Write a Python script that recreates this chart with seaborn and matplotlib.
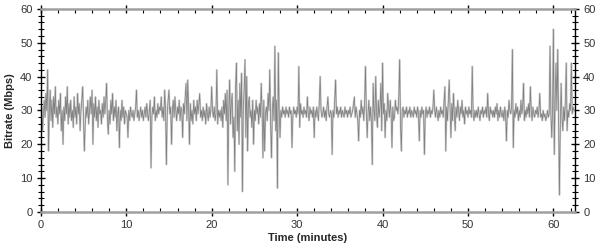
import numpy as np
import pandas as pd
import matplotlib
matplotlib.use("Agg")
import matplotlib.pyplot as plt
from matplotlib.ticker import MultipleLocator
import seaborn as sns

# Bitrate samples (Mbps), one every 0.1 minute
bitrate_mbps = [
    27, 31, 24, 29, 33, 28, 35, 30, 42, 18,
    30, 36, 27, 33, 25, 34, 29, 37, 28, 31,
    26, 33, 29, 35, 24, 30, 20, 31, 27, 34,
    29, 37, 26, 32, 28, 33, 27, 30, 25, 34,
    28, 31, 26, 35, 29, 32, 24, 30, 33, 37,
    27, 18, 26, 31, 28, 33, 26, 30, 34, 29,
    36, 20, 32, 28, 34, 27, 31, 25, 33, 29,
    30, 26, 32, 28, 34, 29, 33, 38, 27, 23,
    30, 26, 33, 29, 35, 27, 31, 28, 33, 24,
    29, 31, 19, 30, 27, 33, 28, 31, 26, 30,
    29, 28, 22, 30, 27, 31, 29, 28, 30, 27,
    29, 31, 36, 28, 30, 27, 29, 31, 28, 30,
    27, 29, 31, 28, 32, 29, 27, 30, 33, 13,
    28, 31, 29, 34, 27, 30, 28, 32, 29, 31,
    30, 34, 28, 31, 27, 36, 30, 14, 29, 33,
    36, 29, 31, 20, 30, 33, 28, 34, 30, 27,
    31, 29, 33, 27, 31, 30, 22, 32, 29, 34,
    38, 27, 39, 31, 20, 32, 27, 30, 26, 33,
    29, 31, 27, 33, 29, 32, 35, 28, 30, 27,
    31, 28, 30, 26, 32, 29, 27, 31, 28, 30,
    37, 30, 28, 31, 27, 29, 42, 26, 30, 28,
    30, 27, 31, 25, 33, 29, 35, 27, 36, 8,
    30, 39, 26, 32, 35, 22, 28, 12, 37, 44,
    24, 33, 20, 38, 28, 41, 6, 31, 36, 45,
    22, 40, 18, 32, 34, 28, 30, 25, 33, 20,
    30, 27, 33, 29, 31, 26, 32, 28, 38, 30,
    16, 33, 18, 29, 31, 27, 35, 30, 42, 26,
    16, 30, 34, 27, 49, 24, 33, 7, 47, 30,
    22, 30, 28, 31, 29, 30, 28, 31, 29, 30,
    28, 31, 29, 30, 19, 28, 31, 29, 30, 28,
    31, 29, 43, 25, 32, 29, 30, 28, 31, 29,
    30, 28, 34, 29, 27, 31, 29, 30, 28, 31,
    22, 30, 28, 31, 29, 27, 33, 40, 30, 28,
    29, 31, 28, 30, 27, 31, 34, 29, 28, 30,
    29, 17, 30, 28, 33, 39, 29, 31, 28, 30,
    29, 31, 28, 30, 29, 28, 31, 29, 30, 28,
    30, 29, 31, 28, 29, 30, 32, 34, 28, 31,
    29, 27, 21, 30, 28, 33, 29, 31, 27, 32,
    43, 30, 22, 29, 33, 27, 31, 26, 14, 38,
    30, 27, 40, 29, 25, 33, 28, 31, 38, 24,
    44, 29, 32, 22, 30, 27, 35, 31, 28, 33,
    29, 19, 31, 27, 28, 33, 30, 31, 29, 34,
    45, 26, 18, 30, 31, 28, 30, 29, 31, 28,
    30, 29, 31, 28, 30, 29, 28, 31, 29, 30,
    28, 31, 29, 21, 30, 28, 31, 29, 30, 17,
    29, 31, 28, 30, 29, 31, 28, 30, 29, 31,
    36, 30, 28, 31, 29, 27, 30, 28, 31, 29,
    30, 28, 33, 37, 18, 31, 27, 33, 39, 30,
    22, 32, 27, 35, 29, 24, 31, 28, 33, 30,
    27, 31, 29, 33, 28, 30, 26, 31, 29, 30,
    28, 31, 29, 30, 28, 43, 29, 27, 30, 28,
    30, 28, 31, 29, 27, 30, 29, 31, 28, 30,
    29, 31, 28, 35, 29, 27, 31, 29, 30, 28,
    30, 28, 31, 29, 32, 27, 30, 28, 31, 29,
    28, 30, 27, 31, 29, 21, 30, 28, 33, 30,
    29, 31, 48, 19, 30, 28, 32, 29, 31, 27,
    30, 28, 33, 29, 31, 38, 27, 30, 28, 31,
    29, 32, 28, 37, 30, 27, 31, 29, 28, 30,
    29, 31, 28, 30, 35, 28, 29, 27, 30, 28,
    29, 27, 28, 30, 28, 29, 49, 29, 22, 30,
    54, 17, 33, 44, 30, 48, 28, 5, 25, 38,
    28, 24, 31, 27, 33, 44, 24, 30, 28, 32,
    30, 44, 29, 31, 30,
]
sample_step_min = 0.1
time_min = [round(i * sample_step_min, 1) for i in range(len(bitrate_mbps))]

df = pd.DataFrame({"time": time_min, "bitrate": bitrate_mbps})

sns.set_style("white")
plt.rcParams["font.family"] = ["Liberation Sans", "DejaVu Sans"]

fig = plt.figure(figsize=(6.0, 2.49), dpi=100)
ax = fig.add_axes([0.068, 0.149, 0.89, 0.815])

sns.lineplot(data=df, x="time", y="bitrate", ax=ax, color="#d6d6d6",
             linewidth=1.4, estimator=None)
sns.lineplot(data=df, x="time", y="bitrate", ax=ax, color="#808080",
             linewidth=0.55, estimator=None)

ax.set_xlim(0, 62.5)
ax.set_ylim(0, 60)
ax.xaxis.set_major_locator(MultipleLocator(10))
ax.xaxis.set_minor_locator(MultipleLocator(2))
ax.yaxis.set_major_locator(MultipleLocator(10))
ax.yaxis.set_minor_locator(MultipleLocator(2))

ax.set_xlabel("Time (minutes)", fontsize=8, fontweight="bold", labelpad=2)
ax.set_ylabel("Bitrate (Mbps)", fontsize=8, fontweight="bold", labelpad=4)

for side in ("top", "bottom"):
    ax.spines[side].set_visible(True)
    ax.spines[side].set_color("#a0a0a0")
    ax.spines[side].set_linewidth(1.8)
for side in ("left", "right"):
    ax.spines[side].set_visible(True)
    ax.spines[side].set_color("black")
    ax.spines[side].set_linewidth(1.0)

ax.tick_params(axis="y", which="major", direction="inout", length=6, width=1,
               left=True, right=True, labelleft=True, labelright=True,
               labelsize=8, colors="black", labelcolor="#333333", pad=3)
ax.tick_params(axis="y", which="minor", direction="inout", length=4, width=0.8,
               left=True, right=True, colors="black")
ax.tick_params(axis="x", which="major", direction="inout", length=6, width=1,
               bottom=True, top=True, labelsize=8, colors="black",
               labelcolor="#333333", pad=3)
ax.tick_params(axis="x", which="minor", direction="in", length=3, width=0.8,
               bottom=True, top=True, colors="black")
ax.grid(False)

fig.savefig("out.png", dpi=100)
